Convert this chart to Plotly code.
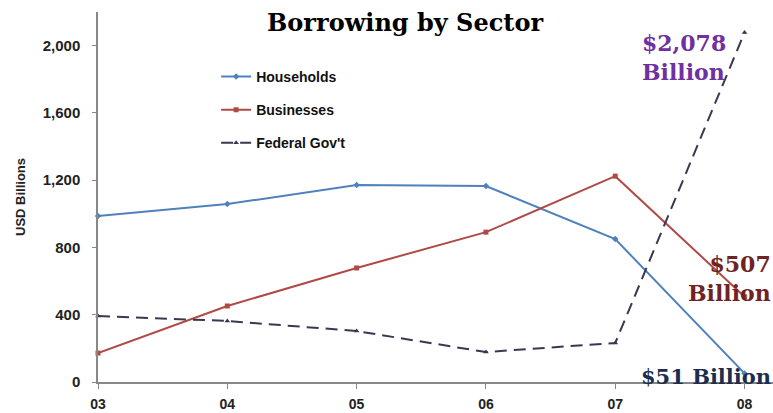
import plotly.graph_objects as go

years = ["03", "04", "05", "06", "07", "08"]
households = [987, 1058, 1171, 1165, 850, 51]
businesses = [172, 452, 678, 891, 1224, 507]
federal = [392, 363, 303, 178, 232, 2078]
y_ticks = [0, 400, 800, 1200, 1600, 2000]

xpos = list(range(len(years)))

fig = go.Figure()
fig.add_trace(go.Scatter(x=xpos, y=households, name="<b>Households</b>", mode="lines+markers",
                         line=dict(color="#4f81bd", width=2), marker=dict(symbol="diamond", size=5),
                         legendgroup="a", cliponaxis=False))
fig.add_trace(go.Scatter(x=xpos, y=businesses, name="<b>Businesses</b>", mode="lines+markers",
                         line=dict(color="#b04a47", width=2), marker=dict(symbol="square", size=5),
                         legendgroup="b", cliponaxis=False))
fig.add_trace(go.Scatter(x=xpos, y=federal, name="<b>Federal Gov't</b>", mode="lines+markers",
                         line=dict(color="#3d3650", width=2, dash="12px,7px"),
                         marker=dict(symbol="triangle-up", size=5),
                         legendgroup="c", cliponaxis=False))

fig.update_layout(
    width=773, height=413,
    margin=dict(l=98, r=0, t=12, b=31),
    paper_bgcolor="white", plot_bgcolor="white",
    font=dict(family="Liberation Sans, Arial", size=13, color="#222"),
    title=dict(text="<b>Borrowing by Sector</b>", x=0.524, xanchor="center", y=0.945, yanchor="middle",
               font=dict(family="DejaVu Serif", size=24, color="#000")),
    showlegend=True,
    legend=dict(x=0.175, y=0.868, xanchor="left", yanchor="top", tracegroupgap=12,
                font=dict(size=14, color="#111", family="Liberation Sans, Arial"),
                bgcolor="rgba(0,0,0,0)", itemwidth=30),
    xaxis=dict(range=[0, 5.22], tickvals=xpos, ticktext=["<b>%s</b>" % y for y in years],
               showline=True, linecolor="#888", automargin=False,
               linewidth=1.5, ticks="outside", ticklen=5, tickcolor="#888", showgrid=False, zeroline=False,
               ticklabelstandoff=3,
               tickfont=dict(size=14, color="#222", family="Liberation Sans, Arial")),
    yaxis=dict(range=[0, 2200], tickvals=y_ticks, ticktext=["<b>{:,}</b>".format(v) for v in y_ticks],
               showline=True, linecolor="#888", automargin=False,
               linewidth=1.5, ticks="outside", ticklen=4, tickcolor="#888", showgrid=False, zeroline=False,
               ticklabelstandoff=9,
               title=dict(text="<b>USD Billions</b>", font=dict(size=13, color="#222"), standoff=14),
               tickfont=dict(size=15, color="#222")),
)

serif = "DejaVu Serif"
fig.add_annotation(x=4.87, y=federal[5], xref="x", yref="y", text="<b>$2,078<br>Billion</b>",
                   showarrow=False, xanchor="right", yanchor="top", yshift=5, align="left",
                   font=dict(family=serif, size=22, color="#7030a0"))
fig.add_annotation(x=1.0, y=businesses[5], xref="paper", yref="y", text="<b>$507<br>Billion</b>",
                   showarrow=False, xanchor="right", yanchor="middle", yshift=18, align="right",
                   font=dict(family=serif, size=22, color="#6e2424"))
fig.add_annotation(x=1.0, y=households[5], xref="paper", yref="y", text="<b>$51 Billion</b>",
                   showarrow=False, xanchor="right", yanchor="middle", yshift=-3, align="right",
                   font=dict(family=serif, size=21, color="#1c2e4d"))

fig.write_html("out.html")
